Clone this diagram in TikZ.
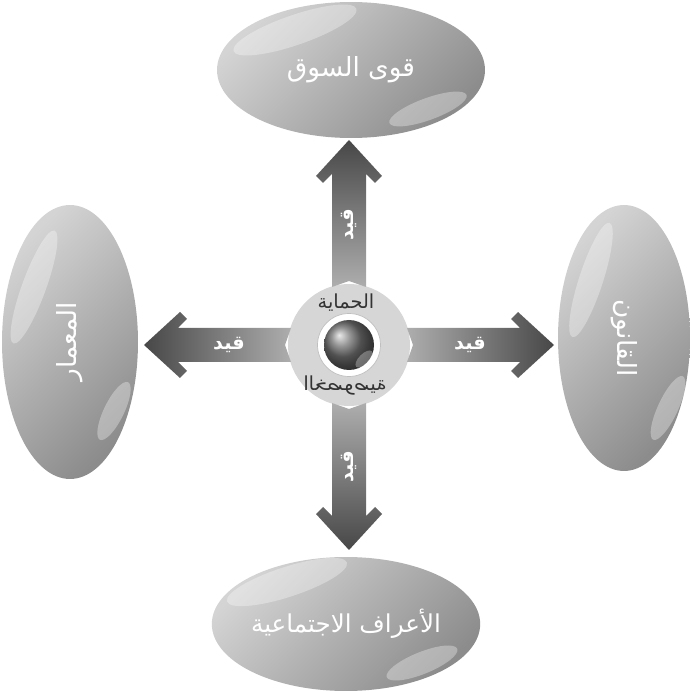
\documentclass[tikz,border=0pt]{standalone}
\usepackage{fontspec}
\usetikzlibrary{shapes.geometric,calc}
\TeXXeTstate=1
\newfontfamily\arabicfont[Script=Arabic]{DejaVu Sans}
\newcommand{\artext}[1]{{\arabicfont\beginR #1\endR}}
\newcommand{\glint}[4]{\fill[gloss, shift={#1}, rotate=#2] (0,0) ellipse [x radius=#3, y radius=#4];}

\begin{document}
\begin{tikzpicture}[x=0.02cm, y=0.02cm,
  blob/.style={ellipse, inner sep=0pt, left color=black!17, right color=black!45,
               shading angle=45, text=white, font=\fontsize{15}{17}\selectfont},
  gloss/.style={fill=white, fill opacity=0.32},
  arrowlbl/.style={text=white, font=\fontsize{11}{13}\selectfont\bfseries},
  hubtxt/.style={text=black!80, font=\fontsize{11}{13}\selectfont},
]
\useasboundingbox (0,0) rectangle (690,691);

%% outer ellipses
\node[blob, minimum width=5.36cm, minimum height=2.72cm] (market) at (351,621) {\artext{قوى السوق}};
\node[blob, minimum width=5.36cm, minimum height=2.68cm, font=\fontsize{14}{16}\selectfont] (norms) at (346,67) {\artext{الأعراف الاجتماعية}};
\node[blob, minimum width=2.72cm, minimum height=5.48cm] (arch) at (70,349) {\rotatebox{90}{\artext{المعمار}}};
\node[blob, minimum width=2.64cm, minimum height=5.32cm] (law) at (624,353) {\rotatebox{-90}{\artext{القانون}}};

%% glossy spots
\glint{($(market)+(-56,40)$)}{19}{65}{15}
\glint{($(market)+(77,-39)$)}{20}{41}{11}
\glint{($(norms)+(-59,42)$)}{18}{63}{15}
\glint{($(norms)+(76,-39)$)}{22}{38}{11}
\glint{($(arch)+(-36,55)$)}{70}{60}{12}
\glint{($(arch)+(44,-69)$)}{64}{32}{10}
\glint{($(law)+(-33,58)$)}{72}{60}{12}
\glint{($(law)+(44,-70)$)}{65}{35}{10}

%% hub
\node[circle, fill=black!16, minimum size=2.44cm, inner sep=0pt] (hub) at (349,346) {};

%% block arrows (tail at hub rim)
\foreach \ang in {0,90,180,270}{
  \pgfmathsetmacro{\shang}{90+\ang}
  \begin{scope}[shift={(hub.center)}, rotate=\ang]
    \shade[left color=black!32, middle color=black!62, right color=black!72, shading angle=\shang]
      (58,17) -- (171,17) -- (162,26) -- (169,33) -- (205,0) -- (169,-33)
      -- (162,-26) -- (171,-17) -- (58,-17) -- (64,0) -- cycle;
  \end{scope}
}

%% arrow labels
\node[arrowlbl] (c-law) at ($(hub)+(121,0)$) {\artext{قيد}};
\node[arrowlbl] (c-arch) at ($(hub)+(-120,0)$) {\artext{قيد}};
\node[arrowlbl, rotate=90] (c-market) at ($(hub)+(0,120)$) {\artext{قيد}};
\node[arrowlbl, rotate=90] (c-norms) at ($(hub)+(0,-122)$) {\artext{قيد}};

%% ring and ball
\node[circle, fill=white, draw=black!25, minimum size=1.26cm, inner sep=0pt] (ring) at (hub) {};
\shade[ball color=black!55] (hub) circle [radius=25];
\fill[white, fill opacity=0.3, shift={($(hub)+(15,-14)$)}, rotate=45] (0,0) ellipse [x radius=11, y radius=5];

\node[hubtxt] (hub-top) at ($(hub)+(-3,42)$) {\artext{الحماية}};
\node[hubtxt] (hub-bot) at ($(hub)+(-4,-41)$) {\reflectbox{\artext{الخصوصية}}};

\end{tikzpicture}
\end{document}
